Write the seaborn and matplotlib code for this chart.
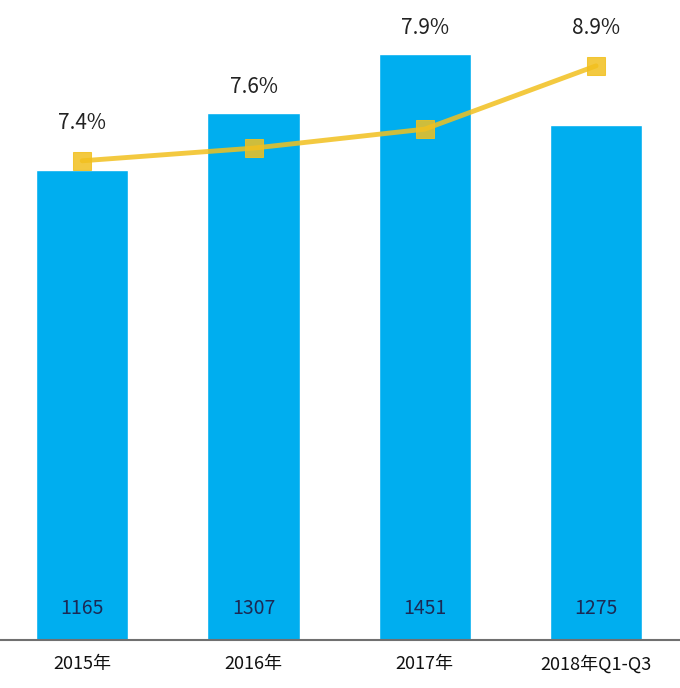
import matplotlib
matplotlib.use("Agg")
import matplotlib.pyplot as plt
import seaborn as sns
import pandas as pd
import numpy as np

years = ["2015年", "2016年", "2017年", "2018年Q1-Q3"]
amounts = [1165, 1307, 1451, 1275]
rates = [7.4, 7.6, 7.9, 8.9]
rate_labels = ["7.4%", "7.6%", "7.9%", "8.9%"]

sns.set_style("white")
plt.rcParams['font.family'] = ['Noto Sans CJK SC', 'DejaVu Sans']

df = pd.DataFrame({"year": years, "amount": amounts, "rate": rates})
df["pos"] = np.arange(len(df))

fig = plt.figure(figsize=(6.8, 6.88), dpi=100)
ax = fig.add_axes([0, 48 / 688, 1, 640 / 688])

sns.barplot(data=df, x="year", y="amount", color="#00aeef", saturation=1,
            width=0.54, ax=ax)
ax.set_ylim(0, 1586)
ax.set_xlim(-0.48, 3.49)
ax.set_xlabel("")
ax.set_ylabel("")
ax.set_yticks([])
for s in ["top", "left", "right"]:
    ax.spines[s].set_visible(False)
ax.spines["bottom"].set_color("#707070")
ax.spines["bottom"].set_linewidth(1.5)
ax.tick_params(axis="x", length=0, pad=11, labelsize=13, labelcolor="#111111")

for i, v in enumerate(amounts):
    ax.text(i, 78, str(v), ha="center", va="center", fontsize=14,
            color="#1b2a55")

ax2 = ax.twinx()
sns.lineplot(data=df, x="pos", y="rate", ax=ax2, color="#f2c01e",
             linewidth=3.5, alpha=0.85, marker="s", markersize=13,
             markeredgecolor="#f2c01e", markerfacecolor="#f2c01e")
ax2.set_ylim(-0.17, 9.94)
ax2.set_yticks([])
ax2.set_ylabel("")
ax2.set_xlabel("")
for s in ["top", "left", "right", "bottom"]:
    ax2.spines[s].set_visible(False)

# label centres, pixels above baseline
tops = []
for i in range(len(years)):
    bar_px = amounts[i] / 1586 * 640
    pt_px = (rates[i] + 0.17) / (9.94 + 0.17) * 640
    tops.append(max(bar_px + 26, pt_px + 38))
for i, lab in enumerate(rate_labels):
    ax.text(i, tops[i] / 640 * 1586, lab, ha="center", va="center",
            fontsize=15, color="#222222")

fig.savefig("out.png", dpi=100)
